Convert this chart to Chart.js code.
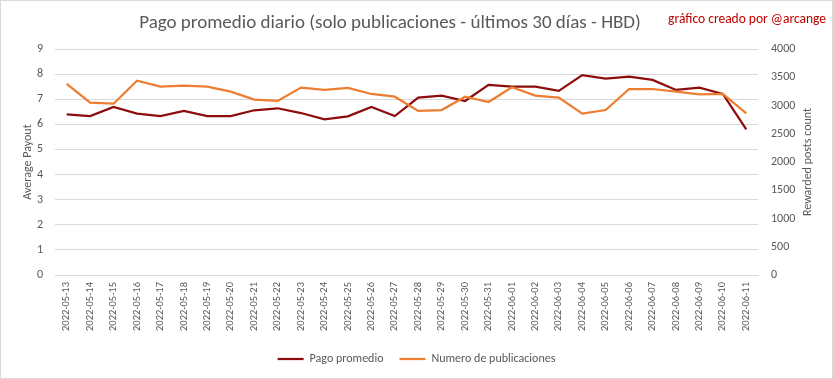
<!DOCTYPE html>
<html>
<head>
<meta charset="utf-8">
<script src="https://cdn.jsdelivr.net/npm/chart.js@4.4.1/dist/chart.umd.min.js"></script>
<style>
  html, body { margin: 0; padding: 0; background: #ffffff; }
  #wrap { width: 833px; height: 379px; position: relative; }
</style>
</head>
<body>
<div id="wrap"><canvas id="c" width="833" height="379"></canvas></div>
<script>
const categories = [
  '2022-05-13','2022-05-14','2022-05-15','2022-05-16','2022-05-17','2022-05-18',
  '2022-05-19','2022-05-20','2022-05-21','2022-05-22','2022-05-23','2022-05-24',
  '2022-05-25','2022-05-26','2022-05-27','2022-05-28','2022-05-29','2022-05-30',
  '2022-05-31','2022-06-01','2022-06-02','2022-06-03','2022-06-04','2022-06-05',
  '2022-06-06','2022-06-07','2022-06-08','2022-06-09','2022-06-10','2022-06-11'
];
const pagoPromedio = [
  6.40, 6.33, 6.69, 6.43, 6.33, 6.53, 6.33, 6.33, 6.56, 6.64,
  6.45, 6.20, 6.32, 6.69, 6.33, 7.06, 7.14, 6.93, 7.57, 7.50,
  7.50, 7.33, 7.96, 7.82, 7.90, 7.77, 7.37, 7.46, 7.21, 5.80
];
const numeroPublicaciones = [
  3381, 3050, 3032, 3440, 3333, 3351, 3333, 3245, 3103, 3080,
  3316, 3275, 3310, 3204, 3156, 2903, 2920, 3156, 3062, 3322,
  3174, 3139, 2855, 2920, 3292, 3292, 3245, 3198, 3204, 2862
];
const titleText = 'Pago promedio diario (solo publicaciones - últimos 30 días - HBD)';
const creditText = 'gráfico creado por @arcange';
const leftAxisTitle = 'Average Payout';
const rightAxisTitle = 'Rewarded posts count';

const FONT = "Carlito, Lato, 'Liberation Sans', sans-serif";
const GRAY = '#595959';

const decorPlugin = {
  id: 'decor',
  beforeDraw(chart) {
    const ctx = chart.ctx;
    ctx.save();
    ctx.fillStyle = '#ffffff';
    ctx.fillRect(0, 0, chart.width, chart.height);
    ctx.restore();
  },
  afterDraw(chart) {
    const ctx = chart.ctx;
    ctx.save();
    ctx.fillStyle = GRAY;
    ctx.font = "300 19px " + FONT;
    ctx.textAlign = 'center';
    ctx.textBaseline = 'middle';
    ctx.fillText(titleText, 390, 23);
    ctx.fillStyle = '#c00000';
    ctx.font = "13.5px " + FONT;
    ctx.textAlign = 'right';
    ctx.fillText(creditText, 826, 20);
    const ys = chart.scales.y1;
    ctx.fillStyle = GRAY;
    ctx.font = "12px " + FONT;
    ctx.textAlign = 'center';
    ctx.translate(808, (ys.top + ys.bottom) / 2);
    ctx.rotate(-Math.PI / 2);
    ctx.fillText(rightAxisTitle, 0, 0);
    ctx.restore();
    ctx.save();
    ctx.strokeStyle = '#d9d9d9';
    ctx.lineWidth = 1;
    ctx.strokeRect(0.5, 0.5, chart.width - 1, chart.height - 1);
    ctx.restore();
  }
};

new Chart(document.getElementById('c'), {
  type: 'line',
  data: {
    labels: categories,
    datasets: [
      {
        label: 'Pago promedio',
        data: pagoPromedio,
        yAxisID: 'y',
        borderColor: '#8e0c0c',
        backgroundColor: '#8e0c0c',
        borderWidth: 2.25,
        pointRadius: 0,
        tension: 0,
        order: 1
      },
      {
        label: 'Numero de publicaciones',
        data: numeroPublicaciones,
        yAxisID: 'y1',
        borderColor: '#ed7d31',
        backgroundColor: '#ed7d31',
        borderWidth: 2.25,
        pointRadius: 0,
        tension: 0,
        order: 0
      }
    ]
  },
  options: {
    responsive: false,
    animation: false,
    devicePixelRatio: 1,
    layout: { padding: { top: 49, bottom: 4, left: 0, right: 0 } },
    plugins: {
      title: { display: false },
      tooltip: { enabled: false },
      legend: {
        display: true,
        position: 'bottom',
        labels: {
          usePointStyle: true,
          pointStyle: 'line',
          pointStyleWidth: 26,
          color: GRAY,
          padding: 16,
          font: { family: FONT, size: 12 },
          sort: (a, b) => a.datasetIndex - b.datasetIndex
        }
      }
    },
    scales: {
      x: {
        offset: true,
        grid: { display: false, drawTicks: false },
        border: { display: true, color: '#d9d9d9' },
        ticks: {
          color: GRAY,
          font: { family: FONT, size: 10.5 },
          maxRotation: 90,
          minRotation: 90,
          autoSkip: false,
          padding: 7
        },
        afterFit(s) { s.height = 62; }
      },
      y: {
        position: 'left',
        min: 0,
        max: 9,
        ticks: {
          stepSize: 1,
          color: GRAY,
          font: { family: FONT, size: 12 },
          padding: 12
        },
        grid: { color: '#d9d9d9', drawTicks: false },
        border: { display: false },
        title: {
          display: true,
          text: leftAxisTitle,
          color: GRAY,
          font: { family: FONT, size: 12 },
          padding: { top: 21, bottom: 0 }
        },
        afterFit(s) { s.width = 55; }
      },
      y1: {
        position: 'right',
        min: 0,
        max: 4000,
        ticks: {
          stepSize: 500,
          color: GRAY,
          font: { family: FONT, size: 12 },
          padding: 13,
          callback: (v) => String(v)
        },
        grid: { display: false, drawTicks: false },
        border: { display: false },
        afterFit(s) { s.width = 75; }
      }
    }
  },
  plugins: [decorPlugin]
});
</script>
</body>
</html>
